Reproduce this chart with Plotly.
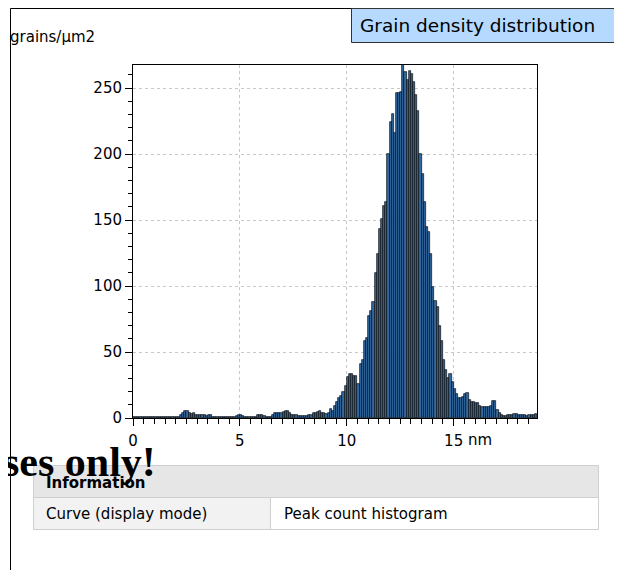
import plotly.graph_objects as go

# ---------------- data ----------------
bin_start_nm = 0.0
bin_width_nm = 0.1
grain_counts = [
    1, 1, 0.5, 1, 1, 0.5, 1, 1, 0.5, 1,
    1, 0.5, 1, 1, 0.5, 1, 0.5, 1, 1, 1,
    1, 1, 2.5, 4, 5, 5, 4, 3, 3.5, 2.5,
    2, 2.5, 2, 2, 1.5, 2, 2, 1, 1, 1,
    1, 0.5, 1, 1, 1, 0.5, 1, 1, 1.5, 2,
    2, 1.5, 1, 0.5, 1, 1, 1, 1, 2, 2.5,
    2.5, 1.5, 1, 1, 1, 2.5, 3.5, 4, 4, 3.5,
    4.5, 5.5, 5, 3.5, 2.5, 2, 2, 1.5, 1.5, 1.5,
    1.5, 1.5, 2, 2, 3.5, 3.5, 4.5, 5, 4, 3.5,
    3, 4, 7, 5.5, 9, 12.5, 15, 17, 20, 24,
    31, 33, 33, 32, 32, 26, 41, 44, 58, 61,
    77, 81, 88, 110, 124, 143, 151, 161, 164, 200,
    224, 230, 216, 246, 246, 247, 268, 262, 256, 263,
    261, 255, 245, 233, 200, 185, 164, 145, 141, 124,
    99, 89, 84, 70, 58, 44, 36, 30, 33, 27,
    22, 18, 15, 15, 16, 18, 19, 14, 12, 12,
    11, 11, 9, 8, 8, 8, 8, 9, 13, 13,
    6, 4, 2, 1.5, 1.5, 2, 2, 2.5, 3, 3,
    2.5, 2, 2, 2, 1.5, 2, 2, 2, 3,
]
x_tick_values = [0, 5, 10, 15]
x_tick_labels = ["0", "5", "10", "15"]
x_unit = "nm"
y_tick_values = [0, 50, 100, 150, 200, 250]
y_unit = "grains/μm2"
chart_title = "Grain density distribution"
watermark = "ses only!"
table_header = "Information"
table_keys = ["Curve (display mode)"]
table_values = ["Peak count histogram"]

x_range = [0, 18.9]
y_range = [0, 267.5]

# ---------------- geometry helpers (page pixel coords) ----------------
OFF = 8  # html body margin
W, H = 622 - OFF, 570 - OFF
PL, PR, PT, PB = 133, 537, 65, 418   # plot area in page pixels
L, R, T, B = PL - OFF, 622 - PR, PT - OFF, 570 - PB
PW, PH = PR - PL, PB - PT


def px(x):
    return (x - PL) / PW


def py(y):
    return (PB - y) / PH


centers = [bin_start_nm + (i + 0.5) * bin_width_nm for i in range(len(grain_counts))]

FONT = "DejaVu Sans"

fig = go.Figure()
fig.add_trace(go.Bar(
    x=centers, y=grain_counts, width=bin_width_nm,
    marker=dict(color="#3269a2", line=dict(color="#0d0d0d", width=0.7)),
    showlegend=False, hoverinfo="x+y",
))

axis_common = dict(
    showline=True, linecolor="black", linewidth=1, mirror=True,
    showgrid=True, gridcolor="#c8c8c8", griddash="3px,3px", gridwidth=1,
    zeroline=False, ticks="outside", tickcolor="black", ticklen=7,
    tickfont=dict(family=FONT, size=15, color="black"),
)

fig.update_xaxes(
    range=x_range, tickvals=x_tick_values, ticktext=x_tick_labels,
    minor=dict(dtick=0.5, ticks="outside", ticklen=5, tickcolor="black", showgrid=False),
    ticklabelstandoff=2,
    **axis_common,
)
fig.update_yaxes(
    range=y_range, tickvals=y_tick_values,
    minor=dict(dtick=10, ticks="outside", ticklen=4, tickcolor="black", showgrid=False),
    ticklabelstandoff=0,
    **axis_common,
)

shapes = []
annos = []

# outer frame
frame = dict(color="black", width=1)
shapes.append(dict(type="line", xref="paper", yref="paper", x0=px(10.5), x1=px(10.5), y0=py(8.5), y1=py(575), line=frame))
shapes.append(dict(type="line", xref="paper", yref="paper", x0=px(10.5), x1=px(619.5), y0=py(8.5), y1=py(8.5), line=frame))
shapes.append(dict(type="line", xref="paper", yref="paper", x0=px(619.5), x1=px(619.5), y0=py(8.5), y1=py(575), line=frame))

# title box
shapes.append(dict(type="rect", xref="paper", yref="paper", x0=px(351.5), x1=px(619.5), y0=py(8.5), y1=py(42.5),
                   fillcolor="#b5d9ff", line=dict(color="#333333", width=1)))
annos.append(dict(text=chart_title, xref="paper", yref="paper", x=px(358), y=py(25),
                  xanchor="left", yanchor="middle", showarrow=False,
                  font=dict(family=FONT, size=18.5, color="black")))

# y unit
annos.append(dict(text=y_unit, xref="paper", yref="paper", x=px(8), y=py(37),
                  xanchor="left", yanchor="middle", showarrow=False,
                  font=dict(family=FONT, size=15, color="black")))

# x unit
annos.append(dict(text=x_unit, xref="paper", yref="paper", x=px(466), y=py(440),
                  xanchor="left", yanchor="middle", showarrow=False,
                  font=dict(family=FONT, size=15, color="black")))

# watermark
annos.append(dict(text="<b>" + watermark + "</b>", xref="paper", yref="paper", x=px(158), y=py(462),
                  xanchor="right", yanchor="middle", showarrow=False,
                  font=dict(family="Liberation Serif", size=42, color="black")))

# table
tx0, tx1, tdiv = 33.5, 598.5, 270.5
ty0, ty1, ty2 = 465.5, 497.5, 529.5
cell_line = dict(color="#cfcfcf", width=1)
shapes.append(dict(type="rect", xref="paper", yref="paper", x0=px(tx0), x1=px(tx1), y0=py(ty0), y1=py(ty1),
                   fillcolor="#e6e6e6", line=cell_line, layer="below"))
shapes.append(dict(type="rect", xref="paper", yref="paper", x0=px(tx0), x1=px(tdiv), y0=py(ty1), y1=py(ty2),
                   fillcolor="#f2f2f2", line=cell_line, layer="below"))
shapes.append(dict(type="rect", xref="paper", yref="paper", x0=px(tdiv), x1=px(tx1), y0=py(ty1), y1=py(ty2),
                   fillcolor="#ffffff", line=cell_line, layer="below"))
annos.append(dict(text="<b>" + table_header + "</b>", xref="paper", yref="paper", x=px(44), y=py((ty0 + ty1) / 2 + 1),
                  xanchor="left", yanchor="middle", showarrow=False,
                  font=dict(family=FONT, size=15, color="black")))
for k, v in zip(table_keys, table_values):
    annos.append(dict(text=k, xref="paper", yref="paper", x=px(44), y=py((ty1 + ty2) / 2),
                      xanchor="left", yanchor="middle", showarrow=False,
                      font=dict(family=FONT, size=15, color="black")))
    annos.append(dict(text=v, xref="paper", yref="paper", x=px(282), y=py((ty1 + ty2) / 2),
                      xanchor="left", yanchor="middle", showarrow=False,
                      font=dict(family=FONT, size=15, color="black")))

fig.update_layout(
    width=W, height=H,
    margin=dict(l=L, r=R, t=T, b=B, pad=0),
    paper_bgcolor="white", plot_bgcolor="white",
    bargap=0, shapes=shapes, annotations=annos,
    font=dict(family=FONT, color="black"),
)

fig.write_html("out.html")
